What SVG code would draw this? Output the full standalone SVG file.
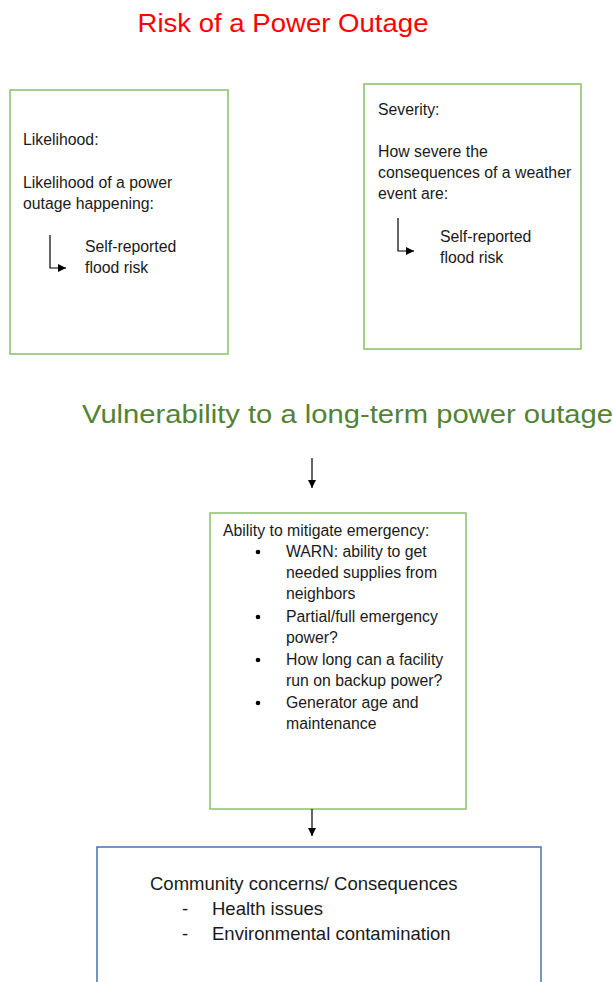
<svg xmlns="http://www.w3.org/2000/svg" width="613" height="982" viewBox="0 0 613 982">
<defs>
<marker id="ah" viewBox="0 0 10 10" refX="10" refY="5" markerWidth="8" markerHeight="8" markerUnits="userSpaceOnUse" orient="auto"><path d="M0,0 L10,5 L0,10 Z" fill="#000"/></marker>
<style>
.t{font-family:"Liberation Sans",Arial,sans-serif;font-size:15.8px;fill:#1a1a1a}
.b{font-family:"Liberation Sans",Arial,sans-serif;font-size:18.5px;fill:#1a1a1a}
.gbox{fill:#fff;stroke:#8cc063;stroke-width:1.5}
.bbox{fill:#fff;stroke:#4a6fb5;stroke-width:1.5}
.ln{fill:none;stroke:#000;stroke-width:1.2}
</style>
</defs>
<rect width="613" height="982" fill="#fff"/>
<text x="283" y="32" text-anchor="middle" font-family="Liberation Sans,Arial,sans-serif" font-size="26" fill="#ff0000" textLength="291" lengthAdjust="spacingAndGlyphs">Risk of a Power Outage</text>
<text x="82" y="423" font-family="Liberation Sans,Arial,sans-serif" font-size="26" fill="#548235" textLength="531" lengthAdjust="spacingAndGlyphs">Vulnerability to a long-term power outage</text>
<g id="likelihood">
<rect class="gbox" x="10" y="90" width="218" height="264"/>
<text class="t" x="23" y="145">Likelihood:</text>
<text class="t" x="23" y="188">Likelihood of a power</text>
<text class="t" x="23" y="209">outage happening:</text>
<path class="ln" d="M50,235 V268 H66" marker-end="url(#ah)"/>
<text class="t" x="85" y="252">Self-reported</text>
<text class="t" x="85" y="273">flood risk</text>
</g>
<g id="severity">
<rect class="gbox" x="364" y="84" width="217" height="265"/>
<text class="t" x="378" y="115">Severity:</text>
<text class="t" x="378" y="157">How severe the</text>
<text class="t" x="378" y="178">consequences of a weather</text>
<text class="t" x="378" y="199">event are:</text>
<path class="ln" d="M398,218 V251 H414" marker-end="url(#ah)"/>
<text class="t" x="440" y="242">Self-reported</text>
<text class="t" x="440" y="263">flood risk</text>
</g>
<g id="mitigate">
<rect class="gbox" x="210" y="513" width="256" height="296"/>
<text class="t" x="223" y="536">Ability to mitigate emergency:</text>
<circle cx="258" cy="552" r="2.3" fill="#000"/>
<circle cx="258" cy="617" r="2.3" fill="#000"/>
<circle cx="258" cy="660" r="2.3" fill="#000"/>
<circle cx="258" cy="703" r="2.3" fill="#000"/>
<text class="t" x="286" y="557">WARN: ability to get</text>
<text class="t" x="286" y="578">needed supplies from</text>
<text class="t" x="286" y="599">neighbors</text>
<text class="t" x="286" y="622">Partial/full emergency</text>
<text class="t" x="286" y="643">power?</text>
<text class="t" x="286" y="665">How long can a facility</text>
<text class="t" x="286" y="686">run on backup power?</text>
<text class="t" x="286" y="708">Generator age and</text>
<text class="t" x="286" y="729">maintenance</text>
</g>
<g id="consequences">
<path class="bbox" d="M97,982 V847 H541 V982"/>
<text class="b" x="150" y="890">Community concerns/ Consequences</text>
<text class="b" x="182" y="915">-</text>
<text class="b" x="212" y="915">Health issues</text>
<text class="b" x="182" y="940">-</text>
<text class="b" x="212" y="940">Environmental contamination</text>
</g>
<g id="connectors">
<line class="ln" x1="312" y1="458" x2="312" y2="488" marker-end="url(#ah)"/>
<line class="ln" x1="312" y1="809" x2="312" y2="836" marker-end="url(#ah)"/>
</g>
</svg>
